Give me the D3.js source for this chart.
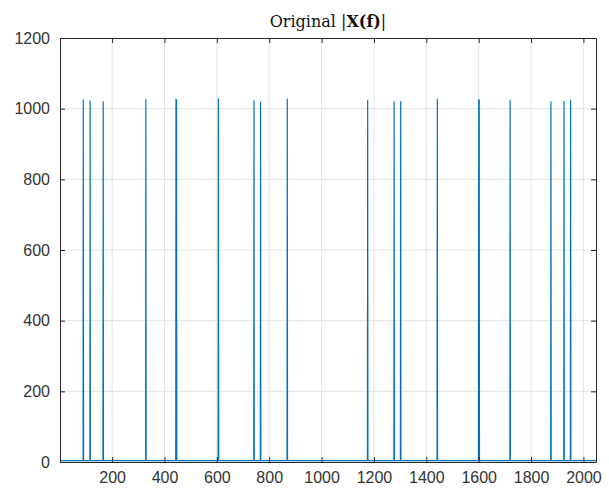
<!DOCTYPE html>
<html><head><meta charset="utf-8">
<script src="https://cdn.jsdelivr.net/npm/d3@7"></script>
<style>body{margin:0;background:#fff;}svg{display:block;}</style>
</head><body>
<svg id="c" width="609" height="490"></svg>
<script>
// ---- data ----
const nBins = 2048;
const spikeBins = [90, 116, 166, 329, 444, 446, 606, 742, 767, 869, 1176, 1277, 1302, 1442, 1600, 1602, 1720, 1876, 1926, 1951];
const spikeMags = [1026, 1023, 1020, 1027, 1028, 1025, 1029, 1024, 1020, 1028, 1025, 1020, 1021, 1028, 1027, 1025, 1025, 1020, 1022, 1025];
const floorLevel = 4;
const xTicks = [200, 400, 600, 800, 1000, 1200, 1400, 1600, 1800, 2000];
const yTicks = [0, 200, 400, 600, 800, 1000, 1200];
const titleText = ["Original |", "X(f)", "|"];

(function () {
  const series = [];
  const spikeMap = new Map(spikeBins.map((b, i) => [b, spikeMags[i]]));
  for (let k = 1; k <= nBins; k++) series.push({k, v: spikeMap.has(k) ? spikeMap.get(k) : floorLevel});

  const svg = d3.select("#c");
  const L = 60, R = 596, T = 38, B = 462;
  const x = d3.scaleLinear().domain([1, nBins]).range([L, R]);
  const y = d3.scaleLinear().domain([0, 1200]).range([B, T]);
  const axisColor = "#262626";
  const fmt = d3.format("d");

  // grid
  svg.append("g").selectAll("line").data(xTicks).join("line")
    .attr("x1", d => x(d)).attr("x2", d => x(d)).attr("y1", T).attr("y2", B)
    .attr("stroke", "#e3e3e3").attr("stroke-width", 1);
  svg.append("g").selectAll("line").data(yTicks.filter(d => d > 0 && d < 1200)).join("line")
    .attr("y1", d => y(d)).attr("y2", d => y(d)).attr("x1", L).attr("x2", R)
    .attr("stroke", "#e3e3e3").attr("stroke-width", 1);

  // data line
  const line = d3.line().x(d => x(d.k)).y(d => y(d.v));
  svg.append("path").datum(series).attr("d", line)
    .attr("fill", "none").attr("stroke", "#0072BD").attr("stroke-width", 1.2);

  // axes (inward ticks, box)
  const font = "Liberation Sans, Arial, sans-serif";
  const gB = svg.append("g").attr("transform", `translate(0,${B})`)
    .call(d3.axisBottom(x).tickValues(xTicks).tickFormat(fmt).tickSizeInner(-5).tickSizeOuter(0).tickPadding(10));
  const gT = svg.append("g").attr("transform", `translate(0,${T})`)
    .call(d3.axisTop(x).tickValues(xTicks).tickSizeInner(-5).tickSizeOuter(0).tickFormat(""));
  const gL = svg.append("g").attr("transform", `translate(${L},0)`)
    .call(d3.axisLeft(y).tickValues(yTicks).tickFormat(fmt).tickSizeInner(-5).tickSizeOuter(0).tickPadding(10));
  const gR = svg.append("g").attr("transform", `translate(${R},0)`)
    .call(d3.axisRight(y).tickValues(yTicks).tickSizeInner(-5).tickSizeOuter(0).tickFormat(""));
  [gB, gT, gL, gR].forEach(g => {
    g.selectAll("path.domain").attr("stroke", axisColor);
    g.selectAll(".tick line").attr("stroke", axisColor);
    g.selectAll("text").attr("fill", "#333").style("font-family", font).style("font-size", "16px");
  });

  // title
  const t = svg.append("text").attr("x", (L + R) / 2).attr("y", 27).attr("text-anchor", "middle")
    .style("font-family", "'DejaVu Serif', 'Liberation Serif', serif").style("font-size", "16px").attr("fill", "#111");
  t.append("tspan").text(titleText[0]);
  t.append("tspan").style("font-weight", "bold").text(titleText[1]);
  t.append("tspan").text(titleText[2]);
})();
</script>
</body></html>
